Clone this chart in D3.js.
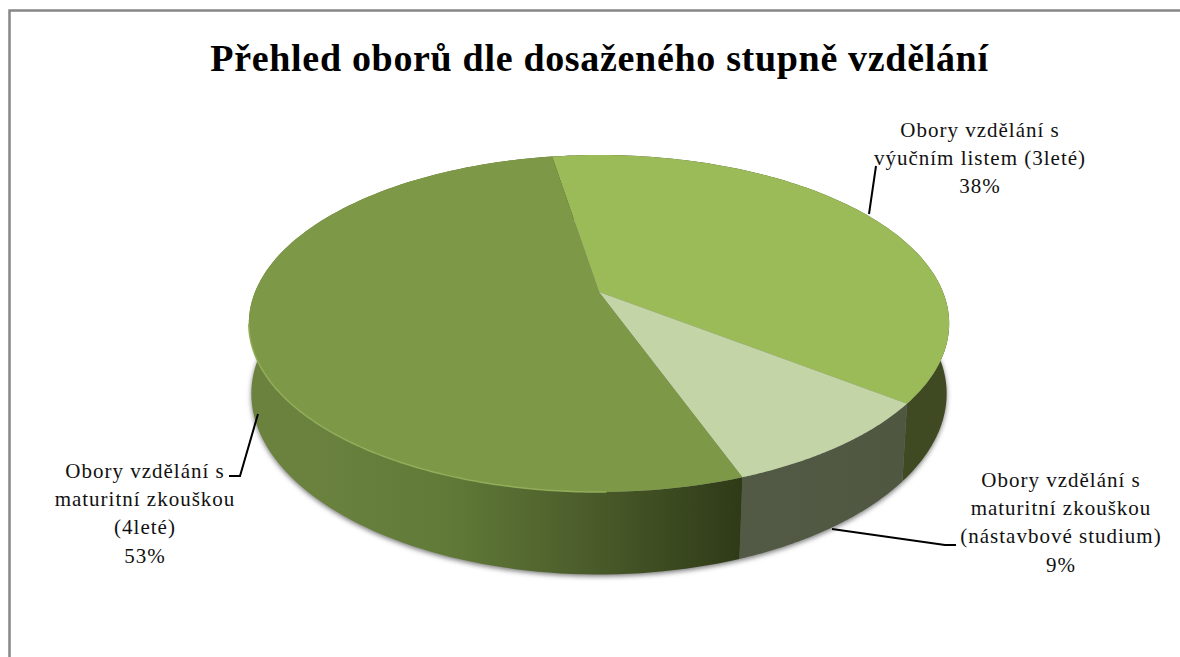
<!DOCTYPE html>
<html><head><meta charset="utf-8">
<style>html,body{margin:0;padding:0;background:#fff;overflow:hidden}</style>
<script src="https://cdnjs.cloudflare.com/ajax/libs/d3/7.8.5/d3.min.js"></script>
</head><body><svg id="c" width="1180" height="657"></svg>
<script>
const title = "Přehled oborů dle dosaženého stupně vzdělání";
const categories = ["Obory vzdělání s výučním listem (3leté)", "Obory vzdělání s maturitní zkouškou (nástavbové studium)", "Obory vzdělání s maturitní zkouškou (4leté)"];
const values = [38, 9, 53];
const topColors = ["#9bbb59", "#c3d5a7", "#7d9847"];
const labelLines = [
  ["Obory vzdělání s", "výučním listem (3leté)", "38%"],
  ["Obory vzdělání s", "maturitní zkouškou", "(nástavbové studium)", "9%"],
  ["Obory vzdělání s", "maturitní zkouškou", "(4leté)", "53%"]
];

const svg = d3.select("#c");
const defs = svg.append("defs");
const X0 = 599, Y0 = 292, R = 344, A = 162.6, P = 0.187;
const start = -9.3 * Math.PI / 180;
function topPt(t){ const u=Math.sin(t), v=-Math.cos(t), k=1-P*v; return [X0+R*u/k, Y0+A*v/k]; }
function botPt(t){ const p=topPt(t), v=Math.max(-Math.cos(t),0); return [X0+(p[0]-X0)*(0.996-0.018*v), p[1]+71.5+0.055*(p[1]-Y0)]; }
const pie = d3.pie().sort(null).startAngle(start).endAngle(start+2*Math.PI);
const arcs = pie(values);
const line = d3.line();
const steps = a => d3.range(0,121).map(i=>a.startAngle+(a.endAngle-a.startAngle)*i/120);

// frame
svg.append("path").attr("d","M9.5 657V10.5H1180").attr("fill","none").attr("stroke","#868686").attr("stroke-width",2.5);

// shadow
defs.append("filter").attr("id","sh").attr("x","-5%").attr("y","-5%").attr("width","110%").attr("height","110%")
  .append("feGaussianBlur").attr("stdDeviation",2.6);
const fr = d3.range(0,361).map(i=>i*Math.PI/180);
svg.append("path").attr("d",line(fr.map(t=>{const p=botPt(t);return [p[0],p[1]+2];}))+"Z").attr("fill","#7c7c7c").attr("filter","url(#sh)");

// gradients
const sideStops = [
  [["#3f4a22",0],["#3f4a22",1]],
  [["#525a45",0],["#4f5640",1]],
  [["#6b823f",0],["#6b823f",0.12],["#617a38",0.4],["#4a5b2a",0.7],["#2f3a17",1]]
];
sideStops.forEach((st,i)=>{
  const g=defs.append("linearGradient").attr("id","g"+i).attr("gradientUnits","userSpaceOnUse")
    .attr("x1",i==2?250:740).attr("x2",i==2?741:950).attr("y1",0).attr("y2",0);
  st.forEach(s=>g.append("stop").attr("offset",s[1]).attr("stop-color",s[0]));
});

// side walls
arcs.forEach((a,i)=>{
  const ts=steps(a);
  const pts=ts.map(topPt).concat(ts.slice().reverse().map(botPt));
  svg.append("path").attr("d",line(pts)+"Z").attr("fill",`url(#g${i})`);
});
// top faces
arcs.forEach((a,i)=>{
  const pts=[[X0,Y0]].concat(steps(a).map(topPt));
  svg.append("path").attr("d",line(pts)+"Z").attr("fill",topColors[i]);
});
// bevel rim on big slice
const big=arcs[2], span=big.endAngle-big.startAngle;
const rimTs=steps({startAngle:big.startAngle+span*0.1,endAngle:big.startAngle+span*0.52});
svg.append("path").attr("d",line(rimTs.map(topPt))).attr("fill","none").attr("stroke","#93ad5a").attr("stroke-width",1.5);

// leaders
const leaders=[[[869,214],[876,166]],[[832,529],[945,545],[956,545]],[[258,414],[240,476],[229,476]]];
svg.selectAll("path.l").data(leaders).join("path").attr("class","l").attr("d",d=>line(d)).attr("fill","none").attr("stroke","#000").attr("stroke-width",2);

// title
svg.append("text").attr("x",599.5).attr("y",71).attr("text-anchor","middle")
  .attr("font-family","Liberation Serif").attr("font-weight","bold").attr("font-size",38).attr("letter-spacing",0.68).attr("fill","#000").text(title);

// labels
const labelPos=[[980,137],[1061,487],[145,478]];
labelLines.forEach((ls,i)=>{
  const t=svg.append("text").attr("text-anchor","middle").attr("font-family","Liberation Serif").attr("font-size",21).attr("letter-spacing",1).attr("fill","#111");
  ls.forEach((s,j)=>t.append("tspan").attr("x",labelPos[i][0]).attr("y",labelPos[i][1]+j*28.2).text(s));
});
</script></body></html>
